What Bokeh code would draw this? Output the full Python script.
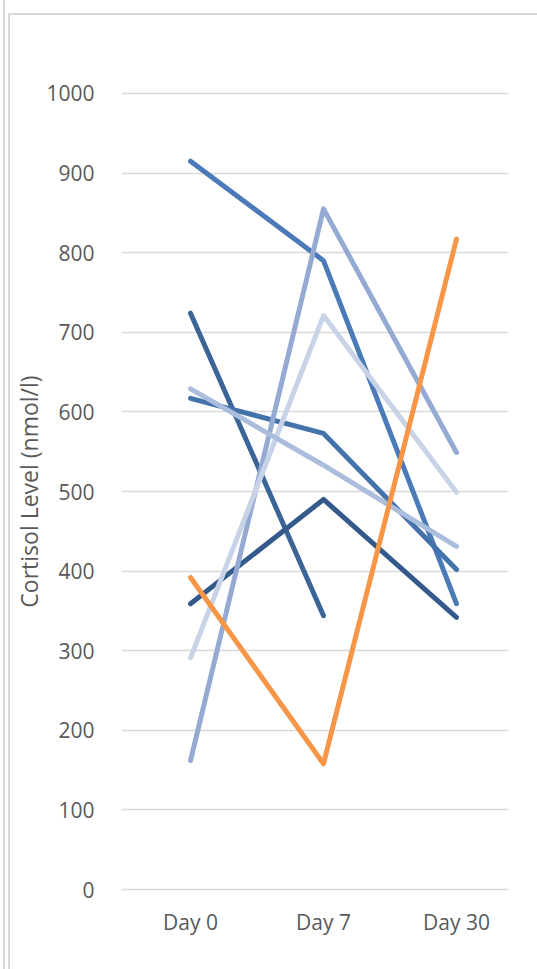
from bokeh.plotting import figure
from bokeh.models import Range1d, FixedTicker
from bokeh.embed import file_html
from bokeh.resources import INLINE

categories = ["Day 0", "Day 7", "Day 30"]
y_ticks = [0, 100, 200, 300, 400, 500, 600, 700, 800, 900, 1000]

series_a = [915, 790, 359]
series_b = [724, 344]
series_c = [359, 490, 342]
series_d = [617, 573, 402]
series_e = [162, 855, 549]
series_f = [291, 721, 499]
series_g = [629, 533, 431]
series_h = [392, 158, 817]

all_series = [
    (series_a, "#4A7BB8"),
    (series_b, "#3B6597"),
    (series_c, "#335A8A"),
    (series_d, "#4473AC"),
    (series_e, "#94AAD3"),
    (series_f, "#C9D3E7"),
    (series_g, "#ABBDDC"),
    (series_h, "#F79646"),
]

W, H = 537, 969
p = figure(width=W, height=H, output_backend="svg", toolbar_location=None,
           x_range=Range1d(-0.519, 2.391), y_range=Range1d(-2.5, 1002.5),
           min_border_left=121, min_border_right=W - 508,
           min_border_top=91, min_border_bottom=H - 891)
p.outline_line_color = None
p.background_fill_color = "white"
p.border_fill_color = None
# faint chart-area frame lines drawn as page background behind the transparent border
g = "linear-gradient(#D9D9D9,#D9D9D9)"
p.styles = {
    "background": (f"{g} 3px 0px / 2px 100% no-repeat, "
                   f"{g} 8px 13px / 2px 100% no-repeat, "
                   f"{g} 8px 13px / 100% 2px no-repeat, white"),
}

for vals, color in all_series:
    xs = list(range(len(vals)))
    p.line(xs, vals, line_color=color, line_width=5, line_cap="round", line_join="round")

FONT = "Open Sans"
p.xaxis.ticker = FixedTicker(ticks=list(range(len(categories))))
p.xaxis.major_label_overrides = {i: c for i, c in enumerate(categories)}
p.yaxis.ticker = FixedTicker(ticks=y_ticks)
for ax in (p.xaxis, p.yaxis):
    ax.axis_line_color = None
    ax.major_tick_line_color = None
    ax.minor_tick_line_color = None
    ax.major_label_text_font = FONT
    ax.major_label_text_font_size = "21px"
    ax.major_label_text_color = "#595959"
p.xaxis.major_label_standoff = 10
p.yaxis.major_label_standoff = 21
p.yaxis.axis_label = "Cortisol Level (nmol/l)"
p.yaxis.axis_label_text_font = FONT
p.yaxis.axis_label_text_font_size = "23px"
p.yaxis.axis_label_text_font_style = "normal"
p.yaxis.axis_label_text_color = "#595959"
p.yaxis.axis_label_standoff = -2

p.xgrid.grid_line_color = None
p.ygrid.grid_line_color = "#D9D9D9"
p.ygrid.grid_line_width = 1.5

open("out.html", "w").write(file_html(p, INLINE))
